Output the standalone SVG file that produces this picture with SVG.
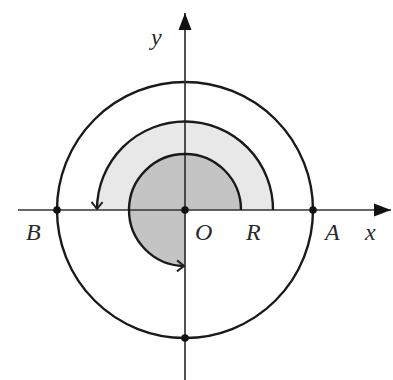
<svg xmlns="http://www.w3.org/2000/svg" width="393" height="380" viewBox="0 0 393 380">
<style>
.ax{stroke:#333;stroke-width:1.7;fill:none}
.c{stroke:#1a1a1a;stroke-width:2.4;fill:none}
.lbl{font-family:"Liberation Serif","DejaVu Serif",serif;font-style:italic;font-size:24px;fill:#2a2a2a}
.dot{fill:#111}
</style>
<defs>
<marker id="open" markerWidth="14" markerHeight="14" refX="0" refY="0" viewBox="-10 -7 12 14" orient="auto" markerUnits="userSpaceOnUse">
<path d="M-7,-5.5 L0,0 L-7,5.5" fill="none" stroke="#222" stroke-width="2"/>
</marker>
<marker id="tri" markerWidth="20" markerHeight="14" refX="0" refY="0" viewBox="-18 -7 19 14" orient="auto" markerUnits="userSpaceOnUse">
<path d="M-17,-6.5 L0,0 L-17,6.5 Z" fill="#111"/>
</marker>
</defs>
<rect width="393" height="380" fill="#fff"/>
<g id="regions">
<path d="M97,210 A88,88 0 0 1 273,210 Z" fill="#e8e8e8"/>
<path d="M129,210 A56,56 0 0 1 241,210 Z" fill="#c4c4c4"/>
<path d="M185,210 L129,210 A56,56 0 0 0 185,266 Z" fill="#c4c4c4"/>
</g>
<g id="outer-circle">
<circle cx="185" cy="210" r="128" class="c"/>
</g>
<g id="connectors">
<line x1="18" y1="210" x2="391" y2="210" class="ax" marker-end="url(#tri)"/>
<line x1="185" y1="380" x2="185" y2="13" class="ax" marker-end="url(#tri)"/>
<path d="M273,210 A88,88 0 0 0 97,209" class="c" marker-end="url(#open)"/>
<path d="M241,210 A56,56 0 1 0 184,266" class="c" marker-end="url(#open)"/>
</g>
<g id="points">
<circle cx="57" cy="210" r="3.8" class="dot"/>
<circle cx="185" cy="210" r="3.8" class="dot"/>
<circle cx="313" cy="210" r="3.8" class="dot"/>
<circle cx="185" cy="338" r="3.8" class="dot"/>
</g>
<g id="labels">
<text x="151" y="45" class="lbl">y</text>
<text x="26" y="240" class="lbl">B</text>
<text x="195" y="240" class="lbl">O</text>
<text x="246" y="240" class="lbl">R</text>
<text x="325" y="240" class="lbl">A</text>
<text x="365" y="240" class="lbl">x</text>
</g>
</svg>
